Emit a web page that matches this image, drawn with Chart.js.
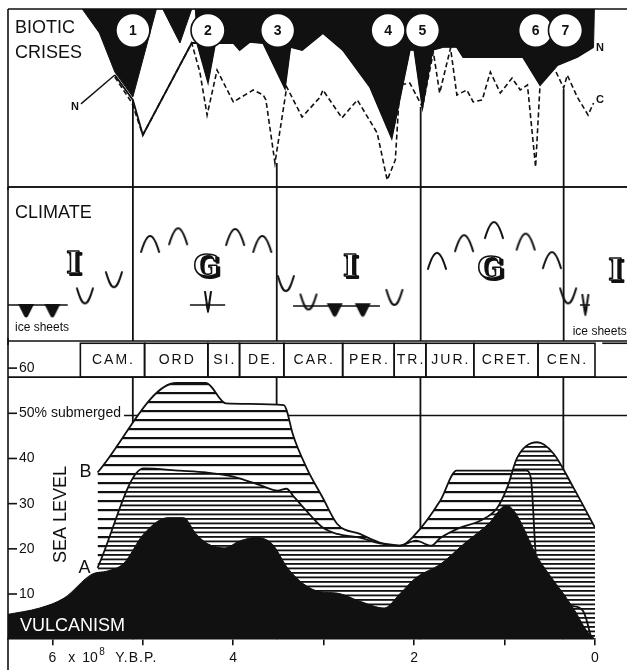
<!DOCTYPE html>
<html>
<head>
<meta charset="utf-8">
<script src="https://cdn.jsdelivr.net/npm/chart.js@4.4.1/dist/chart.umd.min.js"></script>
<style>
  html, body { margin: 0; padding: 0; background: #fff; }
  #wrap { position: relative; width: 627px; height: 670px; overflow: hidden; }
  canvas { position: absolute; left: 0; }
</style>
</head>
<body>
<div id="wrap">
  <canvas id="bio" width="627" height="190" style="top:0px"></canvas>
  <canvas id="clim" width="627" height="162" style="top:183px"></canvas>
  <canvas id="sea" width="627" height="338" style="top:338px"></canvas>
</div>
<script>
// --- time axis, 10^8 years before present (left = old) ---
const tMax = 6.49;
const tMinTop = -0.35;
const xTickVals = [6, 5, 4, 3, 2, 1, 0];
const xTickLabels = ["6", "", "4", "", "2", "", "0"];
const boundaryT = [5.11, 3.52, 1.93, 0.35];
const boundaryTopBio = [49, 13.5, 45, 55];

// --- biotic crises (0 = bottom of panel, 100 = top) ---
const crisisT = [5.11, 4.28, 3.51, 2.29, 1.91, 0.66, 0.33];
const crisisLabels = ["1", "2", "3", "4", "5", "6", "7"];
const crisisLevel = 88;

const silhouetteT = [5.67, 5.48, 5.31, 5.11, 4.85, 4.78, 4.59, 4.46, 4.42, 4.40, 4.28, 4.20, 4.00, 3.93, 3.82, 3.67, 3.43, 3.37, 3.24, 3.01, 2.79, 2.49, 2.25, 2.05, 2.00, 1.91, 1.80, 1.68, 1.53, 1.46, 0.80, 0.61, 0.42, 0.20, 0.02, 0.01];
const silhouetteV = [100, 86.5, 64.6, 50.6, 100, 100, 80.9, 100, 100, 80.9, 59, 80.9, 80.9, 77, 81.5, 80.9, 55.6, 78.7, 77, 86.5, 77, 56.2, 27.5, 77, 77, 44.9, 77, 78.7, 78.7, 73, 73, 57.3, 68.5, 73, 78.7, 100];

const nCurveT = [5.31, 5.11, 5.00, 4.46, 4.40, 4.28, 4.20, 4.00, 3.93, 3.82, 3.67, 3.43, 3.37, 3.24, 3.01, 2.79, 2.49, 2.25, 2.05, 2.00, 1.91, 1.80, 1.68, 1.53, 1.46, 0.80, 0.61, 0.42, 0.20, 0.02];
const nCurveV = [62.9, 48.9, 29.2, 80.9, 80.9, 59, 80.9, 80.9, 77, 81.5, 80.9, 55.6, 78.7, 77, 86.5, 77, 56.2, 27.5, 77, 77, 44.9, 77, 78.7, 78.7, 73, 73, 57.3, 68.5, 73, 78.7];

const cCurveT = [5.31, 5.12, 5.00, 4.46, 4.37, 4.29, 4.18, 4.00, 3.78, 3.67, 3.64, 3.54, 3.41, 3.24, 3.04, 3.01, 2.80, 2.63, 2.41, 2.30, 2.21, 2.16, 2.05, 1.91, 1.79, 1.72, 1.60, 1.53, 1.42, 1.35, 1.25, 1.16, 1.05, 0.92, 0.83, 0.75, 0.66, 0.61, 0.53, 0.47, 0.35, 0.31, 0.20, 0.08, 0.02];
const cCurveV = [61.8, 47.2, 29.2, 80.9, 64.6, 40.4, 65.7, 47.8, 54.5, 51.7, 48.9, 13.5, 56.2, 39.3, 50.6, 54.5, 38.8, 48.9, 30.3, 3.9, 15.2, 57.3, 58.4, 44.9, 75.8, 52.8, 78.1, 51.7, 54.5, 47.8, 48.9, 64.6, 52.8, 61.2, 54.5, 57.3, 11.2, 58.4, 64.6, 68.5, 55.6, 62.9, 50.6, 40.4, 47.2];

// --- climate (0 = bottom of panel, 100 = top) ---
const warmT = [4.92, 4.61, 3.98, 3.68, 1.75, 1.45, 1.12, 0.77, 0.48];
const warmV = [63, 68, 67.5, 63, 52, 63.5, 72, 64.5, 52.5];
const coldT = [5.64, 5.32, 3.42, 3.17, 2.22, 0.30];
const coldV = [29, 39.5, 37, 25, 28, 29];
const iceT = [6.29, 6.00, 2.88, 2.57];
const iceV = [19.5, 19.5, 20, 20];
const iceNarrowT = [4.28, 0.11];
const iceNarrowV = [25, 23];
const iceLineFrom = [6.49, 4.48, 3.34, 0.17];
const iceLineTo = [5.83, 4.09, 2.38, 0.06];
const iceLineV = [23.4, 23.4, 22.7, 23.4];
const climateLetters = ["I", "G", "I", "G", "I"];
const letterT = [5.77, 4.30, 2.71, 1.16, -0.22];
const letterV = [49.4, 47.4, 47.4, 46.1, 44.8];

// --- geological periods ---
const periodNames = ["CAM.", "ORD", "SI.", "DE.", "CAR.", "PER.", "TR.", "JUR.", "CRET.", "CEN."];
const periodStart = [5.69, 4.98, 4.28, 3.93, 3.44, 2.79, 2.22, 1.87, 1.34, 0.63];
const periodEnd = [4.98, 4.28, 3.93, 3.44, 2.79, 2.22, 1.87, 1.34, 0.63, 0.00];
const periodTailT = -0.08;

// --- sea level ---
const seaTickVals = [10, 20, 30, 40, 50, 60];
const seaTickLabels = ["10", "20", "30", "40", "50% submerged", "60"];
const submergedLevel = 49.5;

const seaBT = [5.50, 4.63, 4.30, 4.08, 3.44, 3.41, 3.34, 3.19, 3.01, 2.85, 2.60, 2.38, 2.23, 2.15, 2.00, 1.71, 1.53, 0.76, 0.71, 0.66, 0.62, 0.55, 0.24, 0.13, 0.09, 0.05, 0.03];
const seaBV = [36.9, 56.7, 56.7, 52.2, 51.8, 50.7, 45.3, 38.0, 31.3, 25.5, 23.3, 21.4, 20.9, 20.7, 22.9, 30.7, 37.3, 37.3, 35.8, 20.0, 9.0, 7.6, 7.3, 6.2, 4.0, 1.0, 0];

const seaAT = [5.50, 4.99, 4.59, 4.30, 4.00, 3.69, 3.51, 3.41, 3.34, 3.19, 3.01, 2.85, 2.60, 2.38, 2.16, 1.98, 1.81, 1.71, 1.49, 1.27, 1.08, 0.97, 0.86, 0.64, 0.46, 0.24, 0.00];
const seaAV = [15.8, 37.8, 37.3, 36.9, 36.0, 34.0, 32.9, 33.3, 31.8, 28.4, 24.7, 23.3, 22.5, 21.2, 20.7, 21.8, 20.7, 22.4, 24.7, 26.2, 29.1, 33.6, 40.2, 43.6, 41.1, 33.6, 24.7];

const vulcT = [6.49, 6.14, 5.87, 5.56, 5.39, 5.21, 4.99, 4.72, 4.55, 4.41, 4.28, 4.10, 3.92, 3.75, 3.57, 3.40, 3.22, 3.04, 2.85, 2.60, 2.33, 2.16, 1.98, 1.71, 1.45, 1.18, 0.98, 0.61, 0.24, 0.09, 0.00];
const vulcV = [5.5, 6.9, 9.1, 14.4, 15.1, 16.8, 23.3, 26.9, 26.9, 23.3, 21.1, 20.2, 21.8, 22.5, 21.1, 15.8, 12.2, 10.5, 10.2, 8.4, 6.9, 10.0, 13.6, 16.6, 21.1, 25.5, 29.6, 17.3, 6.9, 1.8, 0];

const INK = "#111";
const FONT = "'Liberation Sans', Arial, sans-serif";
Chart.defaults.font.family = FONT;
Chart.defaults.color = INK;

function pts(ts, vs) {
  return ts.map((t, i) => ({ x: t, y: vs[i] }));
}

function baseOptions(tMin, yMax, padding) {
  return {
    responsive: false,
    animation: false,
    events: [],
    layout: { padding, autoPadding: false },
    plugins: { legend: { display: false }, tooltip: { enabled: false } },
    scales: {
      x: { type: "linear", reverse: true, min: tMin, max: tMax, display: false },
      y: { type: "linear", min: 0, max: yMax, display: false }
    }
  };
}

// vertical lines at the climate boundaries
function drawBoundaries(chart, vFrom, vTo) {
  const { ctx, scales: { x, y } } = chart;
  ctx.save();
  ctx.strokeStyle = INK;
  ctx.lineWidth = 1.8;
  boundaryT.forEach((t, i) => {
    const px = x.getPixelForValue(t);
    const top = Array.isArray(vTo) ? vTo[i] : vTo;
    ctx.beginPath();
    ctx.moveTo(px, y.getPixelForValue(vFrom));
    ctx.lineTo(px, y.getPixelForValue(top));
    ctx.stroke();
  });
  ctx.restore();
}

// small symbol images used as point styles
function mark(w, h, draw) {
  const c = document.createElement("canvas");
  c.width = w;
  c.height = h;
  const g = c.getContext("2d");
  g.strokeStyle = INK;
  g.fillStyle = INK;
  g.lineWidth = 2;
  g.lineCap = "round";
  g.lineJoin = "round";
  draw(g);
  return c;
}
const warmMark = mark(22, 20, g => {
  g.beginPath();
  g.moveTo(2, 18);
  g.bezierCurveTo(5, 8, 8, 2, 11, 2);
  g.bezierCurveTo(14, 2, 17, 8, 20, 18);
  g.stroke();
});
const coldMark = mark(20, 20, g => {
  g.beginPath();
  g.moveTo(2, 2);
  g.bezierCurveTo(5, 12, 7, 17, 10, 17);
  g.bezierCurveTo(13, 17, 15, 12, 18, 2);
  g.stroke();
});
const iceMark = mark(18, 16, g => {
  g.beginPath();
  g.moveTo(1, 1);
  g.lineTo(17, 1);
  g.lineTo(11, 13);
  g.quadraticCurveTo(9, 16, 7, 13);
  g.closePath();
  g.fill();
});
const iceNarrowMark = mark(12, 24, g => {
  g.beginPath();
  g.moveTo(3, 1);
  g.lineTo(6, 21);
  g.lineTo(9, 1);
  g.stroke();
  g.beginPath();
  g.moveTo(3.5, 13);
  g.lineTo(8.5, 13);
  g.lineTo(6, 23);
  g.closePath();
  g.fill();
});

// ================= BIOTIC CRISES =================
const bioDecor = {
  id: "bioDecor",
  afterDatasetsDraw(chart) {
    const { ctx, chartArea: a, scales: { x, y } } = chart;
    drawBoundaries(chart, 0, boundaryTopBio);
    ctx.save();
    ctx.strokeStyle = INK;
    ctx.lineWidth = 1.6;
    ctx.beginPath();
    ctx.moveTo(a.left, a.top); ctx.lineTo(chart.width, a.top);
    ctx.moveTo(a.left, a.top); ctx.lineTo(a.left, chart.height);
    ctx.moveTo(a.left, a.bottom); ctx.lineTo(chart.width, a.bottom);
    ctx.stroke();

    ctx.fillStyle = INK;
    ctx.textBaseline = "middle";
    ctx.font = "18px " + FONT;
    ctx.fillText("BIOTIC", a.left + 7, a.top + 19);
    ctx.fillText("CRISES", a.left + 7, a.top + 44);

    // circled crisis numbers
    ctx.textAlign = "center";
    ctx.font = "bold 14px " + FONT;
    crisisT.forEach((t, i) => {
      ctx.fillText(crisisLabels[i], x.getPixelForValue(t), y.getPixelForValue(crisisLevel) + 1);
    });

    // curve labels
    ctx.font = "bold 11px " + FONT;
    const nx = x.getPixelForValue(5.75), ny = y.getPixelForValue(45);
    ctx.fillText("N", nx, ny);
    ctx.lineWidth = 1.4;
    ctx.beginPath();
    ctx.moveTo(nx + 6, ny - 3);
    ctx.lineTo(x.getPixelForValue(nCurveT[0]), y.getPixelForValue(nCurveV[0]));
    ctx.stroke();
    ctx.fillText("N", x.getPixelForValue(-0.05), y.getPixelForValue(78));
    ctx.fillText("C", x.getPixelForValue(-0.05), y.getPixelForValue(49));
    ctx.restore();
  }
};

const bioOpts = baseOptions(tMinTop, 100, { left: 8, right: 0, top: 9, bottom: 3 });
new Chart(document.getElementById("bio"), {
  type: "line",
  data: {
    datasets: [
      {
        label: "crises",
        data: pts(crisisT, crisisT.map(() => crisisLevel)),
        showLine: false,
        pointRadius: 17,
        pointBackgroundColor: "#fff",
        pointBorderColor: INK,
        pointBorderWidth: 1.6
      },
      {
        label: "C",
        data: pts(cCurveT, cCurveV),
        borderColor: INK,
        borderWidth: 1.6,
        borderDash: [5, 3],
        pointRadius: 0,
        fill: false
      },
      {
        label: "N",
        data: pts(nCurveT, nCurveV),
        borderColor: INK,
        borderWidth: 1.8,
        pointRadius: 0,
        fill: false
      },
      {
        label: "extinctions",
        data: pts(silhouetteT, silhouetteV),
        borderColor: INK,
        borderWidth: 1,
        pointRadius: 0,
        backgroundColor: INK,
        fill: "end"
      }
    ]
  },
  options: bioOpts,
  plugins: [bioDecor]
});

// ================= CLIMATE =================
const climDecor = {
  id: "climDecor",
  afterDatasetsDraw(chart) {
    const { ctx, chartArea: a, scales: { x, y } } = chart;
    drawBoundaries(chart, 0, 100);
    ctx.save();
    ctx.strokeStyle = INK;
    ctx.lineWidth = 1.6;
    ctx.beginPath();
    ctx.moveTo(a.left, a.top); ctx.lineTo(chart.width, a.top);
    ctx.moveTo(a.left, a.top); ctx.lineTo(a.left, chart.height);
    ctx.moveTo(a.left, a.bottom); ctx.lineTo(chart.width, a.bottom);
    ctx.stroke();

    ctx.fillStyle = INK;
    ctx.textBaseline = "middle";
    ctx.font = "18px " + FONT;
    ctx.fillText("CLIMATE", a.left + 7, a.top + 26);

    ctx.font = "12px " + FONT;
    ctx.fillText("ice sheets", a.left + 7, y.getPixelForValue(8.5));
    ctx.fillText("ice sheets", x.getPixelForValue(0.25), y.getPixelForValue(6));

    // I = icehouse, G = greenhouse (outlined letters with a drop shadow)
    ctx.font = "bold 30px 'DejaVu Serif', serif";
    ctx.textAlign = "center";
    ctx.lineJoin = "round";
    climateLetters.forEach((ch, i) => {
      const px = x.getPixelForValue(letterT[i]), py = y.getPixelForValue(letterV[i]);
      ctx.fillStyle = INK;
      ctx.strokeStyle = INK;
      ctx.lineWidth = 2;
      ctx.fillText(ch, px + 2.5, py + 2.5);
      ctx.strokeText(ch, px + 2.5, py + 2.5);
      ctx.fillStyle = "#fff";
      ctx.fillText(ch, px, py);
      ctx.lineWidth = 1.6;
      ctx.strokeText(ch, px, py);
    });
    ctx.restore();
  }
};

const iceLineData = iceLineFrom.flatMap((t1, i) => [
  { x: t1, y: iceLineV[i] },
  { x: iceLineTo[i], y: iceLineV[i] },
  { x: iceLineTo[i], y: null }
]);

new Chart(document.getElementById("clim"), {
  type: "line",
  data: {
    datasets: [
      { label: "warm", data: pts(warmT, warmV), showLine: false, pointStyle: warmMark, pointRadius: 10 },
      { label: "cold", data: pts(coldT, coldV), showLine: false, pointStyle: coldMark, pointRadius: 10 },
      { label: "ice", data: pts(iceT, iceV), showLine: false, pointStyle: iceMark, pointRadius: 9 },
      { label: "ice2", data: pts(iceNarrowT, iceNarrowV), showLine: false, pointStyle: iceNarrowMark, pointRadius: 9 },
      { label: "ice lines", data: iceLineData, borderColor: INK, borderWidth: 1.5, pointRadius: 0, spanGaps: false, fill: false }
    ]
  },
  options: baseOptions(tMinTop, 100, { left: 8, right: 0, top: 4, bottom: 4 }),
  plugins: [climDecor]
});

// ================= SEA LEVEL =================
const seaCanvas = document.getElementById("sea");
function hatch(rows, thick) {
  const tile = document.createElement("canvas");
  tile.width = 8;
  tile.height = 9;
  const g = tile.getContext("2d");
  g.fillStyle = "#fff";
  g.fillRect(0, 0, 8, 9);
  g.fillStyle = INK;
  rows.forEach(r => g.fillRect(0, r, 8, thick));
  return seaCanvas.getContext("2d").createPattern(tile, "repeat");
}
const sparseHatch = hatch([0], 2.2);
const denseHatch = hatch([0, 4.5], 1.8);

const seaDecor = {
  id: "seaDecor",
  beforeDraw(chart) {
    const { ctx, chartArea: a, scales: { y } } = chart;
    drawBoundaries(chart, 0, 58);
    ctx.save();
    ctx.font = "14px " + FONT;
    const startX = a.left + 12 + ctx.measureText("50% submerged").width + 2;
    const py = y.getPixelForValue(submergedLevel);
    ctx.strokeStyle = INK;
    ctx.lineWidth = 1.6;
    ctx.beginPath();
    ctx.moveTo(startX, py);
    ctx.lineTo(chart.width, py);
    ctx.stroke();
    ctx.restore();
  },
  afterDraw(chart) {
    const { ctx, chartArea: a, scales: { x, y } } = chart;
    ctx.save();
    ctx.strokeStyle = INK;
    ctx.fillStyle = INK;
    ctx.lineWidth = 1.6;

    // frame
    const yTopBorder = y.getPixelForValue(58);
    ctx.beginPath();
    ctx.moveTo(a.left, 0); ctx.lineTo(a.left, chart.height);
    ctx.moveTo(a.left, yTopBorder); ctx.lineTo(chart.width, yTopBorder);
    ctx.stroke();

    // period boxes
    const bTop = y.getPixelForValue(65.5);
    ctx.font = "14px " + FONT;
    ctx.textAlign = "center";
    ctx.textBaseline = "middle";
    ctx.letterSpacing = "2px";
    periodNames.forEach((name, i) => {
      const x1 = x.getPixelForValue(periodStart[i]);
      const x2 = x.getPixelForValue(periodEnd[i]);
      ctx.strokeRect(x1, bTop, x2 - x1, yTopBorder - bTop);
      ctx.fillText(name, (x1 + x2) / 2 + 1, (bTop + yTopBorder) / 2);
    });
    ctx.beginPath();
    ctx.moveTo(x.getPixelForValue(periodTailT), bTop);
    ctx.lineTo(chart.width, bTop);
    ctx.stroke();
    ctx.letterSpacing = "0px";

    // y ticks
    ctx.textAlign = "left";
    seaTickVals.forEach((v, i) => {
      const py = y.getPixelForValue(v);
      ctx.beginPath();
      ctx.moveTo(a.left, py);
      ctx.lineTo(a.left + 9, py);
      ctx.stroke();
      ctx.fillText(seaTickLabels[i], a.left + 11, py);
    });

    // labels
    ctx.font = "18px " + FONT;
    ctx.textAlign = "center";
    ctx.fillText("B", x.getPixelForValue(seaBT[0]) - 12, y.getPixelForValue(seaBV[0]));
    ctx.fillText("A", x.getPixelForValue(seaAT[0]) - 13, y.getPixelForValue(seaAV[0]));

    ctx.save();
    ctx.translate(a.left + 53, y.getPixelForValue(27.6));
    ctx.rotate(-Math.PI / 2);
    ctx.fillText("SEA LEVEL", 0, 0);
    ctx.restore();

    ctx.textAlign = "left";
    ctx.fillStyle = "#fff";
    ctx.fillText("VULCANISM", a.left + 12, y.getPixelForValue(3));

    // unit after the "6" tick label
    const xs = chart.scales.x;
    const ly = xs.top + 6 + 5 + 8.4;
    const p6 = xs.getPixelForValue(6);
    ctx.fillStyle = INK;
    ctx.font = "14px " + FONT;
    ctx.fillText("x", p6 + 16, ly);
    ctx.fillText("10", p6 + 30, ly);
    ctx.font = "10px " + FONT;
    ctx.fillText("8", p6 + 47, ly - 6);
    ctx.font = "14px " + FONT;
    ctx.letterSpacing = "1px";
    ctx.fillText("Y.B.P.", p6 + 63, ly);
    ctx.restore();
  }
};

const seaOpts = baseOptions(0, 66, { left: 8, right: 32, top: 3, bottom: 4 });
seaOpts.plugins.filler = { drawTime: "beforeDatasetsDraw" };
seaOpts.scales.x = {
  type: "linear",
  reverse: true,
  min: 0,
  max: tMax,
  display: true,
  afterBuildTicks: s => { s.ticks = xTickVals.map(v => ({ value: v })); },
  grid: { drawOnChartArea: false, drawTicks: true, tickLength: 6, color: INK, lineWidth: 1.6 },
  border: { display: true, color: INK, width: 1.6 },
  ticks: {
    autoSkip: false,
    maxRotation: 0,
    padding: 5,
    color: INK,
    font: { size: 14 },
    callback: (v) => xTickLabels[xTickVals.indexOf(v)] ?? ""
  }
};

new Chart(seaCanvas, {
  type: "line",
  data: {
    datasets: [
      {
        label: "vulcanism",
        data: pts(vulcT, vulcV),
        borderColor: INK,
        borderWidth: 1,
        backgroundColor: INK,
        pointRadius: 0,
        cubicInterpolationMode: "monotone",
        fill: "origin"
      },
      {
        label: "A",
        data: pts(seaAT, seaAV),
        borderColor: INK,
        borderWidth: 1.8,
        backgroundColor: denseHatch,
        pointRadius: 0,
        cubicInterpolationMode: "monotone",
        fill: "origin"
      },
      {
        label: "B",
        data: pts(seaBT, seaBV),
        borderColor: INK,
        borderWidth: 1.8,
        backgroundColor: sparseHatch,
        pointRadius: 0,
        cubicInterpolationMode: "monotone",
        fill: "origin"
      }
    ]
  },
  options: seaOpts,
  plugins: [seaDecor]
});
</script>
</body>
</html>
